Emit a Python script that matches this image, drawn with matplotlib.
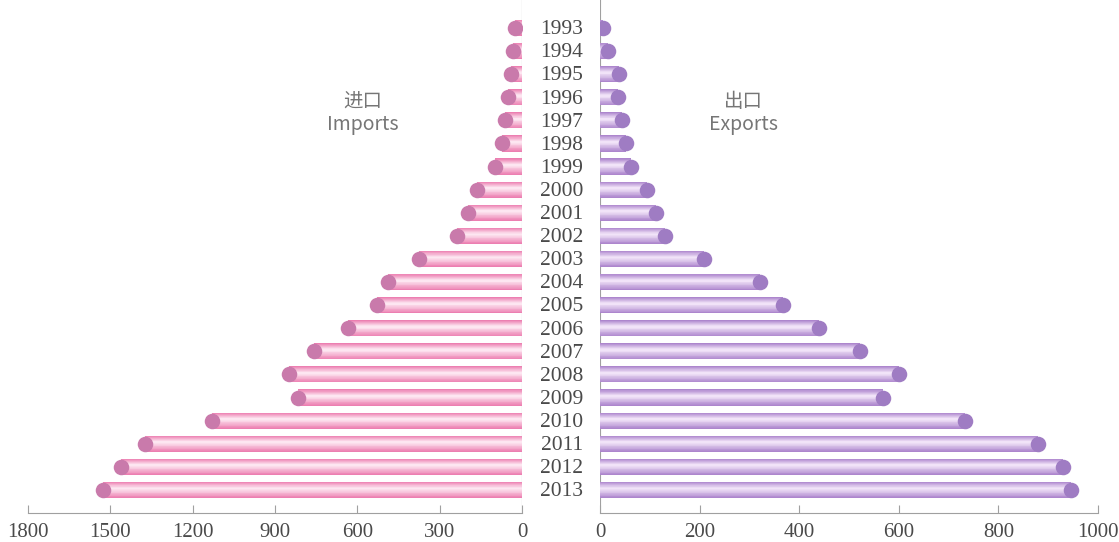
import matplotlib
matplotlib.use("Agg")
import matplotlib.pyplot as plt
from matplotlib.colors import to_rgb
import numpy as np

years = list(range(1993, 2014))
imports = [25, 33, 40, 51, 62, 73, 98, 164, 197, 237, 375, 488, 528, 634,
           758, 849, 816, 1130, 1374, 1461, 1527]
exports = [7, 16, 38, 36, 44, 52, 62, 94, 112, 130, 209, 321, 367, 440,
           522, 600, 568, 733, 880, 930, 946]
left_ticks = [1800, 1500, 1200, 900, 600, 300, 0]
right_ticks = [0, 200, 400, 600, 800, 1000]

plt.rcParams['font.family'] = ['Noto Sans CJK SC', 'DejaVu Sans']
serif = 'Liberation Serif'
txt = '#4a4a4a'
axis_col = '#a0a0a0'

fig = plt.figure(figsize=(11.19, 5.42), dpi=100)
axl = fig.add_axes([28 / 1119, 29 / 542, 494 / 1119, 513 / 542])
axr = fig.add_axes([600 / 1119, 29 / 542, 498 / 1119, 513 / 542])

y = np.arange(len(years))


def cylinder(ax, vals, edge, light, cap):
    # stacked bars of shrinking height fake a tube gradient
    e, l = np.array(to_rgb(edge)), np.array(to_rgb(light))
    n = 12
    for k in range(n):
        t = k / (n - 1)
        h = 0.70 * (1 - t) + 0.08 * t
        c = e * (1 - t) + l * t
        ax.barh(y - 0.06 * t, vals, height=h, color=c, lw=0, zorder=2)
    ax.scatter(vals, y, s=125, color=cap, lw=0, zorder=3)


cylinder(axl, imports, '#ec7fb1', '#fde6f1', '#c97aab')
cylinder(axr, exports, '#ad86cd', '#f1e3f8', '#9f7cc3')

for ax in (axl, axr):
    ax.set_ylim(21.0, -1.21)
    for s in ('top', 'left', 'right'):
        ax.spines[s].set_visible(False)
    ax.spines['bottom'].set_color(axis_col)
    ax.spines['bottom'].set_linewidth(0.8)
    ax.set_yticks([])
    ax.tick_params(axis='x', direction='in', length=6, color=axis_col,
                   labelsize=15, labelcolor=txt, pad=7)

axl.set_xlim(1800, 0)
axl.set_xticks(left_ticks)
axl.set_xticklabels([str(v) for v in left_ticks], fontfamily=serif)
axl.axvline(0, color=axis_col, lw=0.8, zorder=1)

axr.set_xlim(0, 1000)
axr.set_xticks(right_ticks)
axr.set_xticklabels([str(v) for v in right_ticks], fontfamily=serif)
axr.axvline(0, color=axis_col, lw=0.8, zorder=1)

for i, yr in enumerate(years):
    axr.text(-77, i + 0.08, str(yr), ha='center', va='center', fontsize=15.5,
             color=txt, fontfamily=serif, clip_on=False)

axl.text(0.677, 0.78, '进口\nImports', transform=axl.transAxes, ha='center',
         va='center', fontsize=14, color='#767676', linespacing=1.15)
axr.text(0.288, 0.78, '出口\nExports', transform=axr.transAxes, ha='center',
         va='center', fontsize=14, color='#767676', linespacing=1.15)

fig.savefig("out.png", dpi=100)
